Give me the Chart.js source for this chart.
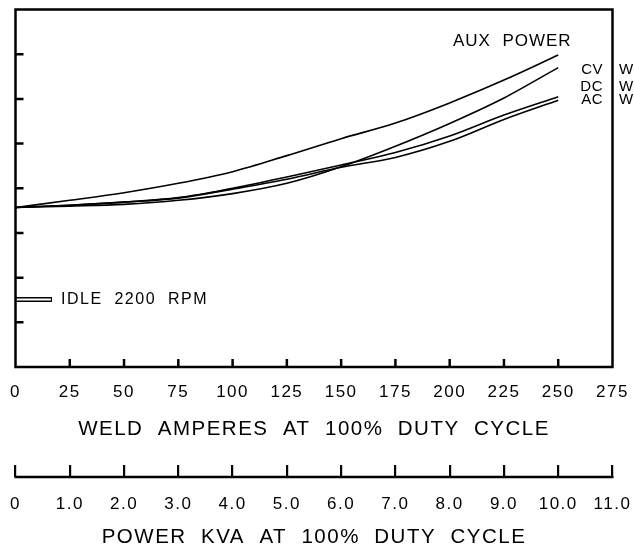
<!DOCTYPE html>
<html><head><meta charset="utf-8">
<script src="https://cdn.jsdelivr.net/npm/chart.js@4.4.1/dist/chart.umd.min.js"></script>
<style>html,body{margin:0;padding:0;background:#fff}canvas{display:block}</style>
</head><body>
<canvas id="c" width="634" height="550"></canvas>
<script>
// ---- data ----
const weldAmps = [0, 25, 50, 75, 100, 125, 150, 175, 200, 225, 250];
const auxPower = [3.57, 3.73, 3.90, 4.11, 4.37, 4.73, 5.11, 5.46, 5.91, 6.42, 6.98];
const cvWeld   = [3.57, 3.60, 3.64, 3.73, 3.88, 4.11, 4.48, 4.94, 5.45, 6.02, 6.70];
const dcWeld   = [3.57, 3.62, 3.69, 3.79, 4.00, 4.25, 4.52, 4.80, 5.17, 5.64, 6.05];
const acWeld   = [3.57, 3.62, 3.69, 3.78, 3.98, 4.20, 4.47, 4.69, 5.05, 5.54, 5.97];
const idleAmps = [0, 16.8];
const idleLevel = [1.51, 1.51];
const ampTicks = [0, 25, 50, 75, 100, 125, 150, 175, 200, 225, 250, 275];
const kvaTicks = [0, 1, 2, 3, 4, 5, 6, 7, 8, 9, 10, 11];
const kvaLabels = ['0', '1.0', '2.0', '3.0', '4.0', '5.0', '6.0', '7.0', '8.0', '9.0', '10.0', '11.0'];
const yTicks = [1, 2, 3, 4, 5, 6, 7];

const FONT = "'Liberation Sans', Arial, sans-serif";
const pts = (xs, ys) => xs.map((x, i) => ({x, y: ys[i]}));
const curve = (label, ys) => ({
  label, data: pts(weldAmps, ys), borderColor: '#000', borderWidth: 1.6,
  pointRadius: 0, fill: false, cubicInterpolationMode: 'monotone', order: 3
});
const noPad = s => { s.paddingLeft = 0; s.paddingRight = 0; };

const decor = {
  id: 'decor',
  beforeDraw(chart) { chart.ctx.letterSpacing = '1.5px'; },
  afterDraw(chart) {
    const {ctx, chartArea: ca, scales} = chart;
    const xs = scales.x, ys = scales.y, x2 = scales.x2;
    ctx.save();
    ctx.strokeStyle = '#000';
    ctx.lineWidth = 2.5;
    ctx.strokeRect(ca.left, ca.top, ca.width, ca.height);
    ctx.beginPath();
    yTicks.forEach(v => { const y = ys.getPixelForValue(v); ctx.moveTo(ca.left, y); ctx.lineTo(ca.left + 8, y); });
    ampTicks.slice(1, -1).forEach(v => { const x = xs.getPixelForValue(v); ctx.moveTo(x, ca.bottom); ctx.lineTo(x, ca.bottom - 8); });
    ctx.stroke();
    // kva axis line
    const ky = x2.top + 12;
    ctx.beginPath();
    ctx.moveTo(x2.getPixelForValue(kvaTicks[0]) - 1, ky);
    ctx.lineTo(x2.getPixelForValue(kvaTicks[kvaTicks.length - 1]) + 1, ky);
    ctx.stroke();
    // texts
    ctx.fillStyle = '#000';
    ctx.textBaseline = 'middle';
    ctx.letterSpacing = '1px';
    ctx.font = '17px ' + FONT;
    ctx.textAlign = 'left';
    ctx.fillText('AUX  POWER', 453, 41);
    ctx.letterSpacing = '1.5px';
    ctx.font = '16px ' + FONT;
    ctx.fillText('IDLE  2200  RPM', 61, 300);
    ctx.font = '15px ' + FONT;
    ctx.letterSpacing = '0.5px';
    ctx.textAlign = 'right';
    ctx.fillText('CV', 603, 70);
    ctx.fillText('DC', 603, 87);
    ctx.fillText('AC', 603, 99.5);
    ctx.textAlign = 'left';
    ctx.fillText('W', 619, 70);
    ctx.fillText('W', 619, 87);
    ctx.fillText('W', 619, 99.5);
    ctx.restore();
  }
};

new Chart(document.getElementById('c'), {
  type: 'line',
  data: {
    datasets: [
      curve('AUX POWER', auxPower),
      curve('CV W', cvWeld),
      curve('DC W', dcWeld),
      curve('AC W', acWeld),
      {label: 'IDLE', data: pts(idleAmps, idleLevel), borderColor: '#000', borderWidth: 5, pointRadius: 0, borderCapStyle: 'butt', order: 2},
      {label: 'IDLE_in', data: pts([idleAmps[0], idleAmps[1] - 0.5], idleLevel), borderColor: '#fff', borderWidth: 2.2, pointRadius: 0, borderCapStyle: 'butt', order: 1}
    ]
  },
  options: {
    responsive: false, animation: false,
    layout: {padding: {left: 15.5, right: 21.5, top: 9.5, bottom: 0}},
    plugins: {legend: {display: false}, tooltip: {enabled: false}},
    scales: {
      x: {
        type: 'linear', position: 'bottom', min: 0, max: 275, weight: 0,
        afterBuildTicks: s => { s.ticks = ampTicks.map(v => ({value: v})); },
        afterFit: s => { s.height = 98; noPad(s); },
        grid: {display: false, drawTicks: false},
        border: {display: false},
        ticks: {autoSkip: false, maxRotation: 0, padding: 15, color: '#000', font: {family: FONT, size: 17}},
        title: {display: true, text: 'WELD  AMPERES  AT  100%  DUTY  CYCLE', color: '#000',
                font: {family: FONT, size: 20.5}, padding: {top: 0, bottom: 23}}
      },
      x2: {
        type: 'linear', position: 'bottom', min: 0, max: 11, weight: 1,
        afterBuildTicks: s => { s.ticks = kvaTicks.map(v => ({value: v})); },
        afterFit: s => { s.height = 85; noPad(s); },
        grid: {display: true, drawOnChartArea: false, drawTicks: true, tickLength: 12, color: '#000', lineWidth: 2.2},
        border: {display: false},
        ticks: {autoSkip: false, maxRotation: 0, padding: 17, color: '#000', font: {family: FONT, size: 17},
                callback: (v, i) => kvaLabels[i]},
        title: {display: true, text: 'POWER  KVA  AT  100%  DUTY  CYCLE', color: '#000',
                font: {family: FONT, size: 20.5}, padding: {top: 0, bottom: 0}}
      },
      y: {type: 'linear', min: 0, max: 8, display: false}
    }
  },
  plugins: [decor]
});
</script>
</body></html>
